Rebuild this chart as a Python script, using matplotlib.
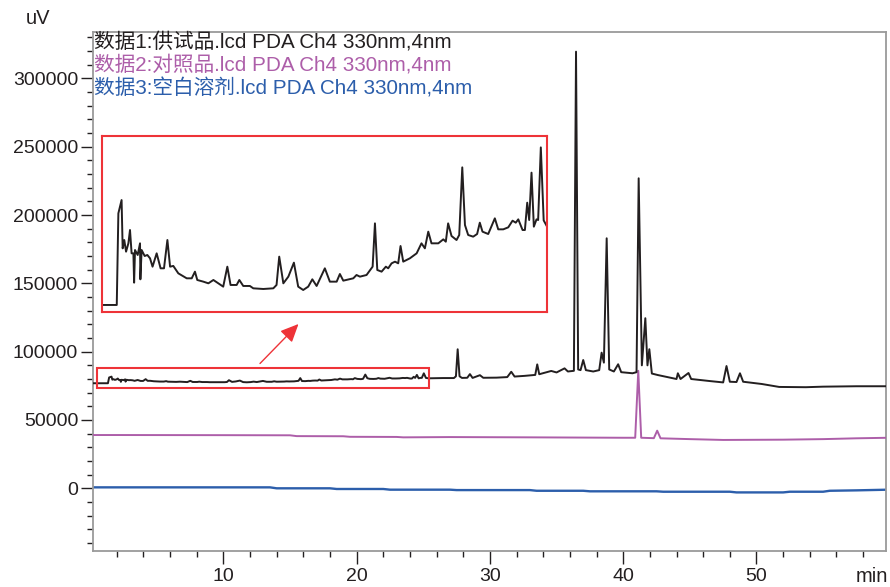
import matplotlib.pyplot as plt
from matplotlib.patches import Rectangle
from matplotlib.ticker import MultipleLocator

# 数据1: 供试品 (sample), retention time in min, signal in uV
sample_t = [0.0, 0.5, 1.34, 1.43, 1.61, 1.67, 1.76, 1.86, 1.99, 2.08, 2.17, 2.27, 2.31, 2.36,
            2.51, 2.64, 2.66, 2.73, 2.90, 3.05, 3.20, 3.34, 3.57, 3.79, 3.98, 4.17, 4.32, 4.50,
            4.78, 5.25, 5.53, 5.71, 5.84, 6.18, 6.46, 6.74, 7.02, 7.29, 7.52, 7.70, 8.04, 8.19,
            8.41, 8.78, 8.97, 9.53, 10.09, 10.27, 10.42, 10.65, 10.93, 11.24, 11.48, 11.76,
            12.04, 12.27, 12.51, 12.97, 13.25, 13.63, 13.81, 14.00, 14.56, 14.74, 14.93, 15.30,
            15.64, 15.77, 15.90, 16.14, 16.38, 16.51, 16.70, 16.89, 17.07, 17.20, 17.35, 17.72,
            18.10, 18.37, 18.56, 18.75, 18.93, 19.31, 19.59, 19.73, 19.86, 20.05, 20.33, 20.48,
            20.65, 20.80, 20.98, 21.26, 21.48, 21.63, 21.78, 22.10, 22.47, 22.66, 22.94, 23.22,
            23.46, 23.64, 23.78, 24.02, 24.15, 24.28, 24.39, 24.52, 24.65, 24.80, 24.89, 25.04,
            25.20, 25.39,
            25.8, 26.5, 27.3, 27.45, 27.58, 27.72, 27.9, 28.3, 28.5, 28.7, 29.25, 29.5, 30.5,
            31.3, 31.6, 31.85, 32.6, 33.4, 33.55, 33.7, 34.6, 35.0, 35.6, 35.85, 36.3, 36.46,
            36.62, 36.8, 37.0, 37.2, 37.75, 38.2, 38.38, 38.55, 38.76, 38.95, 39.3, 39.62, 39.85,
            40.7, 41.0, 41.16, 41.4, 41.66, 41.82, 41.96, 42.15, 42.6, 43.5, 44.0, 44.1, 44.3,
            44.9, 45.1, 45.75, 46.5, 47.5, 47.75, 48.0, 48.5, 48.76, 49.0, 50.4, 51.7, 53.7,
            55.0, 57.5, 59.9]
sample_uv = [76900, 76900, 76900, 81124, 81738, 79511, 79895, 79358, 79742, 80356, 79281, 79281,
             77929, 79434, 79204, 79742, 78083, 79434, 79158, 79204, 79050, 78666, 79281, 78590,
             78590, 79895, 78666, 78700, 78359, 78129, 78129, 78436, 78052, 77975, 77898, 78052,
             77898, 77745, 78666, 77822, 77822, 78052, 77776, 77776, 77668, 77637, 77668, 77822,
             79127, 77898, 78206, 78851, 77745, 77591, 77745, 78083, 77776, 78590, 77975, 77975,
             78328, 78021, 78129, 78282, 78206, 78282, 78666, 80663, 78513, 78436, 78666, 78590,
             78820, 78897, 78820, 79619, 78897, 79050, 79281, 79742, 79511, 80280, 79742, 79742,
             79926, 79818, 80663, 80080, 79895, 80126, 83244, 80586, 80126, 80049, 80172, 80694,
             80280, 80172, 80894, 80387, 80387, 80479, 80786, 80694, 80848, 80356, 80356, 81616,
             80817, 83000, 80510, 80848, 80817, 84165, 80800, 80510,
             80600, 80700, 80700, 82000, 101760, 82000, 80800, 80900, 83600, 80800, 82800, 80900,
             81000, 81400, 85300, 81800, 82300, 83000, 90700, 83500, 85900, 84800, 87800, 85500,
             86000, 319600, 87000, 86500, 93900, 86500, 85500, 86500, 99300, 92000, 183000,
             87000, 85500, 90800, 85000, 84200, 85000, 226900, 90000, 124500, 90000, 101800,
             84000, 82900, 81000, 80000, 84200, 80000, 84400, 80000, 79300, 78500, 77500, 89500,
             78000, 77800, 84200, 78000, 76350, 74200, 74000, 74400, 74700, 74700]

# 数据2: 对照品 (reference)
ref_t = [0.0, 2.0, 10.0, 15.0, 15.5, 19.0, 19.5, 23.0, 23.5, 27.0, 33.0, 40.0, 40.9, 41.13,
         41.35, 42.3, 42.55, 42.8, 45.0, 47.5, 52.0, 55.0, 57.5, 59.9]
ref_uv = [39000, 39000, 38900, 38800, 38200, 38100, 37700, 37600, 37300, 37500, 37300, 37000,
          37000, 86000, 37000, 36700, 42200, 36600, 36000, 35400, 35600, 36000, 36600, 37000]

# 数据3: 空白溶剂 (blank)
blank_t = [0.0, 13.5, 14.0, 18.0, 18.5, 22.0, 22.5, 27.0, 27.5, 33.0, 33.5, 37.0, 37.5, 42.5,
           43.0, 48.0, 48.5, 52.0, 52.5, 55.0, 55.5, 57.5, 59.9]
blank_uv = [700, 700, 0, 0, -500, -500, -1000, -1000, -1300, -1300, -1800, -1800, -2200, -2200,
            -2500, -2500, -3000, -3000, -2500, -2500, -1800, -1500, -1000]

legend_texts = ['数据1:供试品.lcd PDA Ch4 330nm,4nm',
                '数据2:对照品.lcd PDA Ch4 330nm,4nm',
                '数据3:空白溶剂.lcd PDA Ch4 330nm,4nm']

# zoomed region (main axes) and vertical range shown in the enlarged view
zoom_x = (0.5, 25.4)
zoom_y = (73200, 87800)
inset_y = (76590, 84690)

black = '#231f20'
purple = '#ad5ea9'
blue = '#2c5eab'
red = '#ee3338'
gray = '#9a9a9a'

tick_font = ['Liberation Sans']
text_font = ['Liberation Sans', 'Noto Sans CJK SC']

fig = plt.figure(figsize=(8.9, 5.87), dpi=100)
ax = fig.add_axes([0.1042, 0.0613, 0.8918, 0.8842])

ax.plot(blank_t, blank_uv, color=blue, lw=1.7, zorder=2)
ax.plot(ref_t, ref_uv, color=purple, lw=1.4, zorder=3)
ax.plot(sample_t, sample_uv, color=black, lw=1.4, zorder=4)

ax.set_xlim(0.2, 59.75)
ax.set_ylim(-45900, 334000)
ax.set_xticks([10, 20, 30, 40, 50])
ax.set_yticks(range(0, 300001, 50000))
ax.xaxis.set_minor_locator(MultipleLocator(2))
ax.yaxis.set_minor_locator(MultipleLocator(10000))
ax.tick_params(which='major', direction='out', length=9, width=1, color=black, pad=1.5,
               labelsize=14, labelcolor=black)
ax.tick_params(axis='x', which='major', pad=3.5)
ax.tick_params(which='minor', direction='out', length=4, width=1, color=black)
for lab in ax.get_xticklabels() + ax.get_yticklabels():
    lab.set_family(tick_font)
for s in ax.spines.values():
    s.set_color(gray)
    s.set_linewidth(1.3)

fig.text(38 / 890, 1 - 18 / 587, 'uV', ha='center', va='center', fontsize=14.5,
         family=tick_font, color=black)
fig.text(888 / 890, 1 - 577 / 587, 'min', ha='right', va='center', fontsize=14.5,
         family=tick_font, color=black)

for txt, c, yp in zip(legend_texts, [black, purple, blue], [42.5, 64.5, 88]):
    fig.text(94 / 890, 1 - yp / 587, txt, ha='left', va='center', fontsize=14.9,
             family=text_font, color=c)

# red box on the main trace
ax.add_patch(Rectangle((zoom_x[0], zoom_y[0]), zoom_x[1] - zoom_x[0], zoom_y[1] - zoom_y[0],
                       fill=False, edgecolor=red, lw=1.5, zorder=6))

# enlarged view
axin = fig.add_axes([0.1143, 0.469, 0.5006, 0.2993])
axin.plot(sample_t, sample_uv, color=black, lw=1.4)
axin.set_xlim(*zoom_x)
axin.set_ylim(*inset_y)
axin.set_xticks([])
axin.set_yticks([])
for s in axin.spines.values():
    s.set_color(red)
    s.set_linewidth(1.5)

ax.annotate('', xy=(298.5 / 890, 1 - 324 / 587), xytext=(260 / 890, 1 - 363.5 / 587),
            xycoords='figure fraction', textcoords='figure fraction',
            arrowprops=dict(arrowstyle='-|>,head_length=0.55,head_width=0.25', color=red,
                            lw=1, mutation_scale=20, shrinkA=0, shrinkB=0))

fig.savefig('out.png', dpi=100)
